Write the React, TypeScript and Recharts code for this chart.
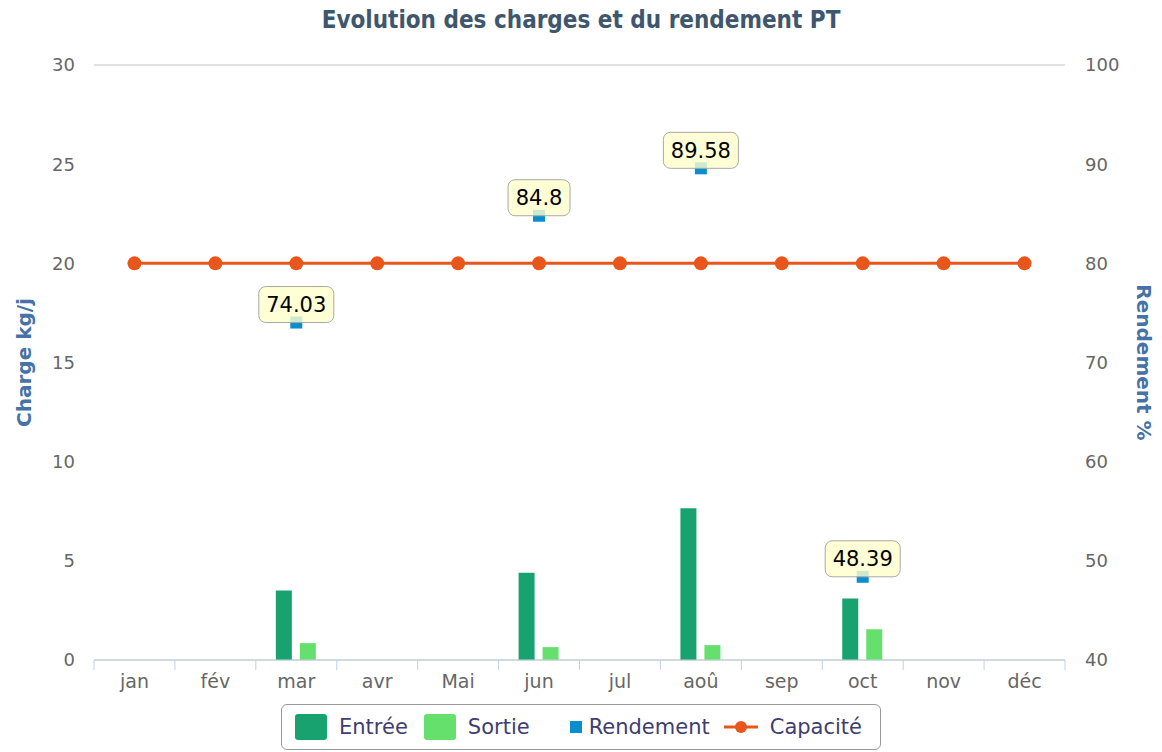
import React from 'react'
import {
  ComposedChart, Bar, Line, XAxis, YAxis, CartesianGrid, Legend, LabelList,
} from 'recharts'

const months = ['jan', 'fév', 'mar', 'avr', 'Mai', 'jun', 'jul', 'aoû', 'sep', 'oct', 'nov', 'déc']
const entree = [null, null, 3.5, null, null, 4.4, null, 7.65, null, 3.1, null, null]
const sortie = [null, null, 0.85, null, null, 0.65, null, 0.75, null, 1.55, null, null]
const rendement = [null, null, 74.03, null, null, 84.8, null, 89.58, null, 48.39, null, null]
const capacite = [20, 20, 20, 20, 20, 20, 20, 20, 20, 20, 20, 20]
const leftTicks = [0, 5, 10, 15, 20, 25, 30]
const rightTicks = [40, 50, 60, 70, 80, 90, 100]

const data = months.map((m, i) => ({
  month: m,
  entree: entree[i],
  sortie: sortie[i],
  rendement: rendement[i],
  capacite: capacite[i],
}))

const FONT = '"DejaVu Sans", Verdana, sans-serif'
const C_ENTREE = '#18a26f'
const C_SORTIE = '#66e06c'
const C_REND = '#0a8fce'
const C_CAP = '#e8561c'

const XTick = (props: any) => {
  const { x, y, payload, index } = props
  const band = 971 / 12
  return (
    <g>
      <line x1={x - band / 2} y1={y - 8} x2={x - band / 2} y2={y + 2} stroke="#c0d0e0" />
      {index === months.length - 1 && (
        <line x1={x + band / 2} y1={y - 8} x2={x + band / 2} y2={y + 2} stroke="#c0d0e0" />
      )}
      <text x={x} y={y + 13} dy="0.35em" textAnchor="middle" fill="#666" fontSize={19} fontFamily={FONT}>
        {payload.value}
      </text>
    </g>
  )
}

const RendDot = (props: any) => {
  const { cx, cy, value, index } = props
  if (value == null || cy == null) return <g key={`d${index}`} />
  return <rect key={`d${index}`} x={cx - 6} y={cy - 6} width={12} height={12} fill={C_REND} />
}

const RendLabel = (props: any) => {
  const { x, y, value } = props
  if (value == null) return null
  const txt = String(value)
  const w = txt.length * 13 + 10
  const h = 36
  return (
    <g>
      <rect x={x - w / 2} y={y - h} width={w} height={h} rx={7} fill="#ffffcc" fillOpacity={0.8} stroke="#a8a8a8" strokeWidth={1} />
      <text x={x} y={y - h / 2} dy="0.35em" textAnchor="middle" fill="#000" fontSize={21} fontFamily={FONT}>
        {txt}
      </text>
    </g>
  )
}

const LegendBox = () => {
  const label = { color: '#3e3e70', fontSize: 21, fontFamily: FONT, whiteSpace: 'nowrap' as const }
  const swatch = (c: string) => ({ width: 32, height: 26, background: c, borderRadius: 3, marginRight: 12, flex: 'none' })
  return (
    <div style={{ height: 50, display: 'flex', justifyContent: 'center' }}>
      <div style={{
        marginTop: 2, height: 46, boxSizing: 'border-box', border: '1px solid #9a9a9a', borderRadius: 6,
        display: 'flex', alignItems: 'center', padding: '0 18px 0 13px',
      }}>
        <span style={swatch(C_ENTREE)} />
        <span style={{ ...label, marginRight: 16 }}>Entrée</span>
        <span style={swatch(C_SORTIE)} />
        <span style={{ ...label, marginRight: 40 }}>Sortie</span>
        <span style={{ width: 12, height: 12, background: C_REND, marginRight: 7, flex: 'none' }} />
        <span style={{ ...label, marginRight: 14 }}>Rendement</span>
        <svg width={34} height={16} style={{ marginRight: 12, flex: 'none' }}>
          <line x1={0} y1={8} x2={34} y2={8} stroke={C_CAP} strokeWidth={3} />
          <circle cx={17} cy={8} r={6} fill={C_CAP} />
        </svg>
        <span style={label}>Capacité</span>
      </div>
    </div>
  )
}

export default function App() {
  return (
    <div style={{ position: 'relative', width: 1162, height: 752, background: '#fff' }}>
      <style>{'body{margin:0}'}</style>
      <div style={{
        position: 'absolute', top: 6, left: 0, width: 1162, textAlign: 'center',
        fontFamily: '"DejaVu Sans Condensed", "DejaVu Sans", sans-serif', fontWeight: 'bold',
        fontSize: 24, color: '#3e576f', zIndex: 1,
      }}>
        Evolution des charges et du rendement PT
      </div>
      <ComposedChart
        width={1162}
        height={752}
        data={data}
        margin={{ top: 65, right: 0, bottom: 0, left: 0 }}
        barSize={16}
        barGap={8}
      >
        <CartesianGrid vertical={false} stroke="#c4c4c4" />
        <XAxis
          dataKey="month"
          height={42}
          tick={<XTick />}
          tickLine={false}
          axisLine={{ stroke: '#c0d0e0' }}
          interval={0}
        />
        <YAxis
          yAxisId="left"
          width={94}
          domain={[0, 30]}
          ticks={leftTicks}
          tickLine={false}
          axisLine={false}
          tickSize={0}
          tickMargin={19}
          tick={{ fill: '#666', fontSize: 18, fontFamily: FONT }}
          label={{
            value: 'Charge kg/j', angle: -90, position: 'insideLeft', offset: 24,
            style: { fill: '#4572a7', fontSize: 20, fontWeight: 'bold', fontFamily: FONT, textAnchor: 'middle' },
          }}
        />
        <YAxis
          yAxisId="right"
          orientation="right"
          width={97}
          domain={[40, 100]}
          ticks={rightTicks}
          tickLine={false}
          axisLine={false}
          tickSize={0}
          tickMargin={20}
          tick={{ fill: '#666', fontSize: 18, fontFamily: FONT }}
          label={{
            value: 'Rendement %', angle: 90, position: 'insideRight', offset: 18,
            style: { fill: '#4572a7', fontSize: 20, fontWeight: 'bold', fontFamily: FONT, textAnchor: 'middle' },
          }}
        />
        <Legend content={<LegendBox />} wrapperStyle={{ left: 0, width: 1162, bottom: 0 }} />
        <Bar yAxisId="left" dataKey="entree" name="Entrée" fill={C_ENTREE} isAnimationActive={false} />
        <Bar yAxisId="left" dataKey="sortie" name="Sortie" fill={C_SORTIE} isAnimationActive={false} />
        <Line
          yAxisId="left"
          dataKey="capacite"
          name="Capacité"
          stroke={C_CAP}
          strokeWidth={3}
          dot={{ r: 7, fill: C_CAP, stroke: C_CAP, strokeWidth: 0 }}
          activeDot={false}
          isAnimationActive={false}
        />
        <Line
          yAxisId="right"
          dataKey="rendement"
          name="Rendement"
          stroke="none"
          dot={<RendDot />}
          activeDot={false}
          isAnimationActive={false}
        >
          <LabelList dataKey="rendement" content={<RendLabel />} />
        </Line>
      </ComposedChart>
    </div>
  )
}
